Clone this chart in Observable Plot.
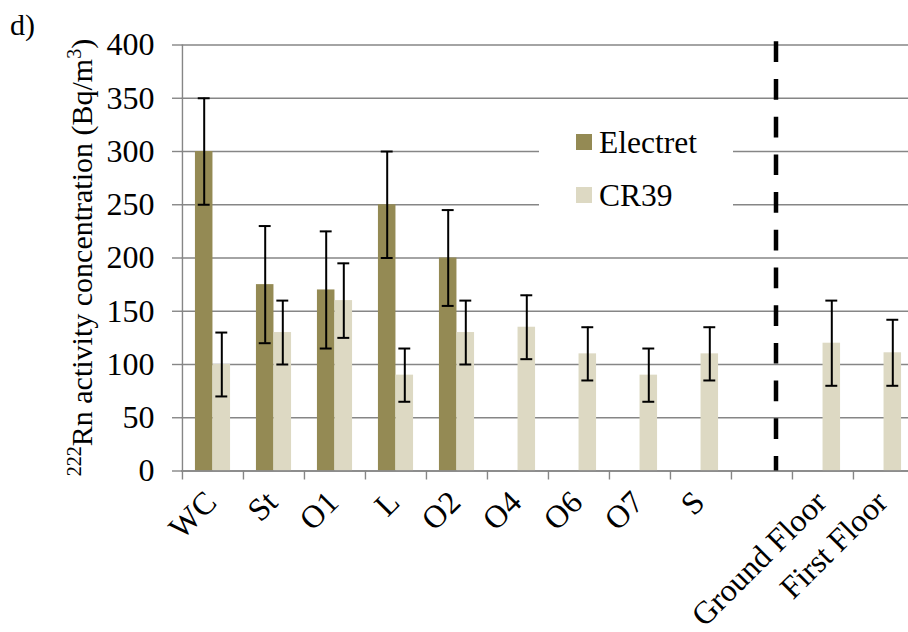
<!DOCTYPE html>
<html><head><meta charset="utf-8">
<script src="https://cdn.jsdelivr.net/npm/d3@7"></script>
<script src="https://cdn.jsdelivr.net/npm/@observablehq/plot@0.6"></script>
<style>
html,body{margin:0;padding:0;background:#fff;overflow:hidden}
#chart{position:relative;width:908px;height:632px}
</style>
</head><body><div id="chart"></div>
<script>
const categories = ["WC","St","O1","L","O2","O4","O6","O7","S","","Ground Floor","First Floor"];
const electretCats = ["WC","St","O1","L","O2"];
const electretValues = [300,175,170,250,200];
const electretLow = [250,120,115,200,155];
const electretHigh = [350,230,225,300,245];
const cr39Cats = ["WC","St","O1","L","O2","O4","O6","O7","S","Ground Floor","First Floor"];
const cr39Values = [100,130,160,90,130,135,110,90,110,120,111];
const cr39Low = [70,100,125,65,100,105,85,65,85,80,80];
const cr39High = [130,160,195,115,160,165,135,115,135,160,142];
const yTicks = [0,50,100,150,200,250,300,350,400];
const dividerCategory = [""];
const seriesNames = ["Electret","CR39"];
const seriesColors = ["#948A54","#DDD9C3"];

const electret = electretCats.map((c,i)=>({cat:c, v:electretValues[i], lo:electretLow[i], hi:electretHigh[i]}));
const cr39 = cr39Cats.map((c,i)=>({cat:c, v:cr39Values[i], lo:cr39Low[i], hi:cr39High[i]}));

const FONT = "'Liberation Serif','Times New Roman',serif";
const GRAY = "#868686";
const W = 908, H = 632;
const x0 = 181, x1 = 914;
const bw = (x1 - x0) / categories.length;
const half = bw / 2;
const barW = 17.6;
const off = barW / 2;
const capInset = (bw - 12) / 2;

const plot = Plot.plot({
  width: W, height: H,
  marginLeft: 181, marginRight: 0, marginTop: 44.5, marginBottom: H - 470.5,
  style: {fontFamily: FONT, background: "white", overflow: "visible"},
  x: {type: "band", domain: categories, range: [x0, x1], padding: 0},
  y: {domain: [0, 400], range: [470.5, 44.5]},
  marks: [
    Plot.gridY(yTicks, {stroke: GRAY, strokeOpacity: 1, strokeWidth: 1.4}),
    Plot.axisY(yTicks, {tickSize: 9, tickPadding: 18, stroke: GRAY, strokeWidth: 1.4, fill: "black", fontSize: 32, fontFamily: FONT, label: null}),
    Plot.ruleX(["WC"], {x: d => d, dx: -half, y1: 0, y2: 400, stroke: GRAY, strokeWidth: 1.4}),
    Plot.barY(electret, {x: "cat", y: "v", fill: seriesColors[0], insetLeft: half - barW, insetRight: half}),
    Plot.barY(cr39, {x: "cat", y: "v", fill: seriesColors[1], insetLeft: half, insetRight: half - barW}),
    Plot.ruleY([0], {stroke: GRAY, strokeWidth: 1.4}),
    Plot.axisX({tickSize: 9, tickFormat: () => "", dx: -half, stroke: GRAY, strokeWidth: 1.4, label: null}),
    Plot.axisX({tickSize: 0, tickPadding: 26, dx: -2, tickRotate: -45, textAnchor: "end", lineAnchor: "middle", fontSize: 32, fontFamily: FONT, fill: "black", label: null}),
    Plot.ruleX(electret, {x: "cat", y1: "lo", y2: "hi", dx: -off, stroke: "black", strokeWidth: 2}),
    Plot.tickY(electret, {x: "cat", y: "hi", dx: -off, inset: capInset, stroke: "black", strokeWidth: 2}),
    Plot.tickY(electret, {x: "cat", y: "lo", dx: -off, inset: capInset, stroke: "black", strokeWidth: 2}),
    Plot.ruleX(cr39, {x: "cat", y1: "lo", y2: "hi", dx: off, stroke: "black", strokeWidth: 2}),
    Plot.tickY(cr39, {x: "cat", y: "hi", dx: off, inset: capInset, stroke: "black", strokeWidth: 2}),
    Plot.tickY(cr39, {x: "cat", y: "lo", dx: off, inset: capInset, stroke: "black", strokeWidth: 2}),
    Plot.ruleX(dividerCategory, {x: d => d, dx: 14, y1: 403, y2: 0, stroke: "black", strokeWidth: 4.5, strokeDasharray: "20.7,17"})
  ]
});

document.getElementById("chart").appendChild(plot);
const svg = d3.select(plot);

// Legend (white box covering gridlines)
const lg = svg.append("g").attr("text-anchor", "start");
lg.append("rect").attr("x", 539).attr("y", 112).attr("width", 194).attr("height", 118).attr("fill", "white");
seriesNames.forEach((name, i) => {
  const yb = 153 + i * 53;
  lg.append("rect").attr("x", 576).attr("y", yb - 19).attr("width", 16).attr("height", 16).attr("fill", seriesColors[i]);
  lg.append("text").attr("x", 599).attr("y", yb).attr("text-anchor", "start").attr("font-family", FONT).attr("font-size", 31.5).attr("fill", "black").text(name);
});

// Y axis title with superscripts
const t = svg.append("text")
  .attr("transform", "translate(92,257.5) rotate(-90)")
  .attr("text-anchor", "middle")
  .attr("font-family", FONT).attr("font-size", 30).attr("fill", "black");
t.append("tspan").attr("font-size", 20).attr("dy", -11).text("222");
t.append("tspan").attr("dy", 11).text("Rn activity concentration (Bq/m");
t.append("tspan").attr("font-size", 20).attr("dy", -11).text("3");
t.append("tspan").attr("dy", 11).text(")");

// Panel label
svg.append("text").attr("x", 10).attr("y", 35).attr("text-anchor", "start").attr("font-family", FONT).attr("font-size", 30).attr("fill", "black").text("d)");
</script>
</body></html>
